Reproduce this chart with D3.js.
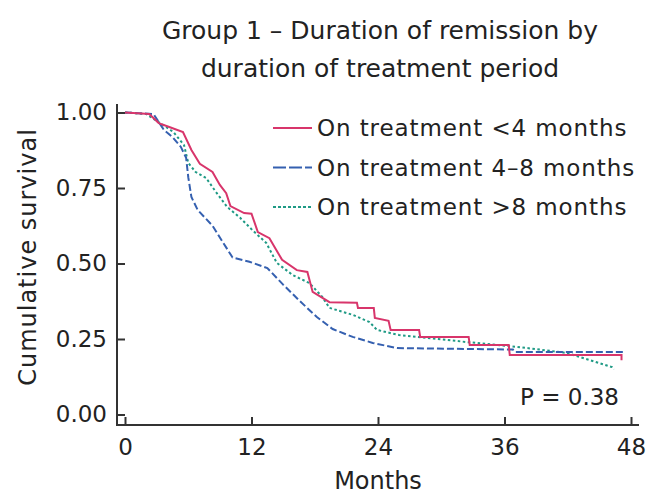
<!DOCTYPE html>
<html>
<head>
<meta charset="utf-8">
<script src="https://cdn.jsdelivr.net/npm/d3@7"></script>
<style>
  body { margin: 0; background: #fff; }
  svg { font-family: "DejaVu Sans", sans-serif; fill: #222; }
</style>
</head>
<body>
<div id="chart"></div>
<script>
// Kaplan-Meier curves (months, cumulative survival)
const seriesNames = ['On treatment <4 months', 'On treatment 4\u20138 months', 'On treatment >8 months'];

const redMonths = [0, 2.3, 3.2, 4.2, 5.5, 6.3, 7.1, 8.3, 9.0, 9.6, 10.0, 11.3, 12.0, 12.6, 13.7, 14.9, 16.3, 17.3, 17.8, 19.4, 22.0, 22.1, 23.6, 23.7, 25.0, 25.2, 27.9, 28.0, 32.6, 32.7, 36.4, 36.5, 47.1, 47.1];
const redSurv   = [1.0, 0.995, 0.965, 0.952, 0.935, 0.876, 0.83, 0.803, 0.76, 0.733, 0.69, 0.667, 0.665, 0.604, 0.584, 0.512, 0.478, 0.472, 0.406, 0.372, 0.37, 0.353, 0.353, 0.32, 0.31, 0.28, 0.28, 0.257, 0.257, 0.23, 0.23, 0.197, 0.197, 0.18];

const blueMonths = [0, 2.7, 3.7, 4.5, 5.3, 5.8, 6.0, 6.3, 6.9, 8.3, 9.2, 10.2, 11.8, 13.5, 15.0, 16.6, 18.2, 19.7, 21.6, 23.5, 25.8, 36.8, 37.0, 47.3];
const blueSurv   = [1.0, 0.995, 0.942, 0.919, 0.886, 0.85, 0.786, 0.72, 0.677, 0.625, 0.575, 0.52, 0.506, 0.485, 0.43, 0.375, 0.323, 0.283, 0.257, 0.237, 0.22, 0.215, 0.207, 0.207];

const greenMonths = [0, 2.0, 3.6, 4.6, 5.6, 6.0, 6.7, 7.7, 8.5, 9.7, 10.9, 12.1, 13.4, 14.4, 15.9, 17.5, 18.7, 19.4, 21.6, 23.2, 23.9, 26.0, 32.4, 37.2, 41.9, 44.1, 46.2, 46.4];
const greenSurv   = [1.0, 0.995, 0.959, 0.935, 0.892, 0.833, 0.803, 0.783, 0.743, 0.687, 0.652, 0.61, 0.568, 0.502, 0.462, 0.435, 0.39, 0.353, 0.33, 0.306, 0.28, 0.263, 0.24, 0.224, 0.204, 0.18, 0.157, 0.15];

const xTicks = [0, 12, 24, 36, 48];
const yTicks = [0, 0.25, 0.5, 0.75, 1];
const pValueLabel = 'P = 0.38';

const width = 650, height = 496;
const colors = ['#d8356b', '#3560b0', '#1f9a85'];
const dashes = [null, '7,3', '2.5,2.5'];
const legendDashes = [null, '13,3', '3,2'];

const svg = d3.select('#chart').append('svg')
  .attr('width', width)
  .attr('height', height);

const x = d3.scaleLinear().domain([0, 48]).range([125, 631]);
const y = d3.scaleLinear().domain([0, 1]).range([414.5, 112.5]);

// title
svg.append('text')
  .attr('x', 380).attr('y', 39)
  .attr('text-anchor', 'middle')
  .style('font-size', '25px')
  .text('Group 1 \u2013 Duration of remission by');
svg.append('text')
  .attr('x', 380).attr('y', 77)
  .attr('text-anchor', 'middle')
  .style('font-size', '25px')
  .text('duration of treatment period');

// axes, ticks point inwards
const xAxis = svg.append('g')
  .attr('transform', 'translate(0,425)')
  .call(d3.axisBottom(x).tickValues(xTicks).tickSize(-8).tickPadding(14));
const yAxis = svg.append('g')
  .attr('transform', 'translate(117,0)')
  .call(d3.axisLeft(y).tickValues(yTicks).tickSize(-8).tickPadding(10).tickFormat(d3.format('.2f')));

[xAxis, yAxis].forEach(g => {
  g.select('.domain').remove();
  g.selectAll('line').attr('stroke', '#333').attr('stroke-width', 2);
  g.selectAll('text').style('font-size', '23px').attr('fill', '#222').style('font-family', '"DejaVu Sans", sans-serif');
});

svg.append('line').attr('x1', 117).attr('x2', 117).attr('y1', 104).attr('y2', 426)
  .attr('stroke', '#333').attr('stroke-width', 2);
svg.append('line').attr('x1', 116).attr('x2', 639).attr('y1', 425).attr('y2', 425)
  .attr('stroke', '#333').attr('stroke-width', 2);

// axis titles
svg.append('text')
  .attr('x', 378).attr('y', 489)
  .attr('text-anchor', 'middle')
  .style('font-size', '24px')
  .text('Months');
svg.append('text')
  .attr('transform', 'translate(36,257) rotate(-90)')
  .attr('text-anchor', 'middle')
  .style('font-size', '24px')
  .style('letter-spacing', '1px')
  .text('Cumulative survival');

// curves
const series = [
  d3.zip(redMonths, redSurv),
  d3.zip(blueMonths, blueSurv),
  d3.zip(greenMonths, greenSurv)
];

const line = d3.line()
  .x(d => x(d[0]))
  .y(d => y(d[1]));

// draw green first so red sits on top, like the original
[2, 1, 0].forEach(i => {
  svg.append('path')
    .datum(series[i])
    .attr('fill', 'none')
    .attr('stroke', colors[i])
    .attr('stroke-width', 2)
    .attr('stroke-dasharray', dashes[i])
    .attr('d', line);
});

// legend
const legend = svg.append('g');
seriesNames.forEach((name, i) => {
  const ly = 128 + i * 39.5;
  legend.append('line')
    .attr('x1', 273).attr('x2', 312)
    .attr('y1', ly).attr('y2', ly)
    .attr('stroke', colors[i])
    .attr('stroke-width', 2)
    .attr('stroke-dasharray', legendDashes[i]);
  legend.append('text')
    .attr('x', 317).attr('y', ly + 8)
    .style('font-size', '23px')
    .style('letter-spacing', '0.9px')
    .text(name);
});

// p-value
svg.append('text')
  .attr('x', 619).attr('y', 405)
  .attr('text-anchor', 'end')
  .style('font-size', '23px')
  .text(pValueLabel);
</script>
</body>
</html>
